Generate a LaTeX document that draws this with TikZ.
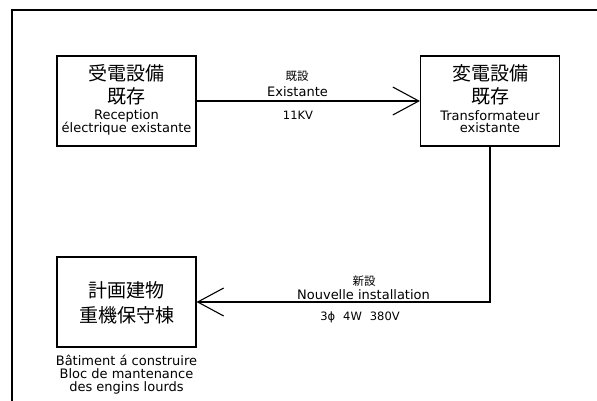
\documentclass[tikz,border=0pt]{standalone}
\usepackage{fontspec}
\setmainfont{DejaVu Sans}
\newfontfamily\jpfont{Noto Sans CJK JP}
\usetikzlibrary{arrows.meta}
\begin{document}
\begin{tikzpicture}[x=1pt,y=-1pt,
  box/.style={draw, line width=1.1pt, minimum width=139pt, minimum height=90pt, inner sep=0pt},
  jptext/.style={font=\jpfont\fontsize{19}{19}\selectfont, anchor=base, inner sep=0pt},
  jpsmall/.style={font=\jpfont\fontsize{11.5}{11.5}\selectfont, anchor=base, inner sep=0pt},
  lattext/.style={font=\fontsize{13}{13}\selectfont, anchor=base, inner sep=0pt},
  latsmall/.style={font=\fontsize{11.5}{11.5}\selectfont, anchor=base, inner sep=0pt},
  multi/.style={font=\fontsize{13}{13}\selectfont, align=center, anchor=north, inner sep=0pt},
  wire/.style={line width=1.1pt, -{Straight Barb[length=26pt,width=28pt]}}
]
\useasboundingbox (0,0) rectangle (597,401);
\draw[line width=2pt] (12,401) -- (12,10) -- (597,10);

% boxes
\node[box] (b1) at (126.5,101) {};
\node[box] (b2) at (490,101) {};
\node[box] (b3) at (126.5,302) {};

% box 1 texts
\node[jptext] (b1j1) at (126.5,80.5) {受電設備};
\node[jptext] (b1j2) at (126.5,103.5) {既存};
\node[lattext] (b1l1) at (126.5,119.5) {Reception};
\node[lattext] (b1l2) at (126.5,132.5) {électrique existante};

% box 2 texts
\node[jptext] (b2j1) at (490,80.5) {変電設備};
\node[jptext] (b2j2) at (490,103.5) {既存};
\node[lattext] (b2l1) at (490,120.5) {Transformateur};
\node[lattext] (b2l2) at (490,133) {existante};

% box 3 texts
\node[jptext] (b3j1) at (126.5,297.5) {計画建物};
\node[jptext] (b3j2) at (126.5,322.5) {重機保守棟};
\node[lattext] (b3l1) at (126.5,365) {Bâtiment á construire};
\node[lattext] (b3l2) at (126.5,378) {Bloc de mantenance};
\node[lattext] (b3l3) at (126.5,391) {des engins lourds};

% connectors
\draw[wire] (b1.east) -- (b2.west);
\draw[wire] (b2.south) |- (b3.east);

% connector labels
\node[jpsmall] (a1j) at (297,80.5) {既設};
\node[lattext] (a1l) at (297.5,96.7) {Existante};
\node[latsmall] (a1v) at (298,120) {11KV};

\node[jpsmall] (a2j) at (364,285.5) {新設};
\node[lattext] (a2l) at (363.5,299.3) {Nouvelle installation};
\node[latsmall] (a2v) at (360,320.7) {3ϕ\hspace{8pt}4W\hspace{8pt}380V};
\end{tikzpicture}
\end{document}
